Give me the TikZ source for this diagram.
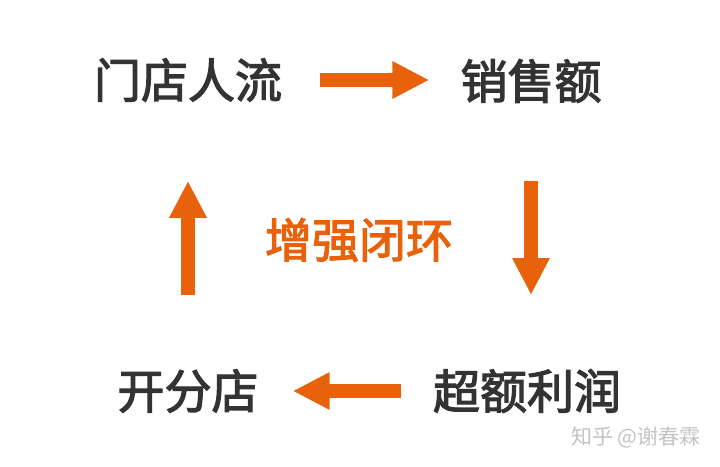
\documentclass[tikz,border=0pt]{standalone}
\usepackage{fontspec}
\newfontfamily\cjk{Noto Sans CJK SC}
\newfontfamily\cjkmid[FakeBold=2.5]{Noto Sans CJK SC}
\usetikzlibrary{arrows.meta,positioning,calc}
\definecolor{loopOrange}{RGB}{232,98,12}
\definecolor{wordGray}{RGB}{51,51,51}
\definecolor{markGray}{RGB}{195,195,195}
\tikzset{
  % Define big orange arrow
  bigarrow/.style={
    draw=loopOrange,
    line width=14pt,
    -{Triangle[width=35pt,length=37pt]}},
  % Define style for the words
  word/.style={
    font=\cjkmid\fontsize{47}{47}\selectfont,
    text=wordGray,
    inner sep=0pt},
}

\begin{document}
\begin{tikzpicture}[x=1pt, y=-1pt]
  \useasboundingbox (0,0) rectangle (720,466);
  % nodes
  \node[word] (flow) at (188,80) {门店人流};
  \node[word] (sales) at (531,81) {销售额};
  \node[word] (profit) at (527,391) {超额利润};
  \node[word] (shop) at (188,391) {开分店};
  \node[word, text=loopOrange] (loop) at (359,240) {增强闭环};
  \node[font=\cjk\fontsize{21}{21}\selectfont, text=markGray, inner sep=0pt]
  (mark) at (636,437) {知乎 @谢春霖};
  % arrows
  \draw[bigarrow, shorten <=38pt, shorten >=31pt] (flow.east) -- (flow.east -| sales.west);
  \draw[bigarrow, shorten <=78pt, shorten >=74pt] (sales.south) -- (sales.south |- profit.north);
  \draw[bigarrow, shorten <=32pt, shorten >=34pt] (profit.west) -- (profit.west -| shop.east);
  \draw[bigarrow, shorten <=74pt, shorten >=79pt] (shop.north) -- (flow.south);
\end{tikzpicture}
\end{document}
